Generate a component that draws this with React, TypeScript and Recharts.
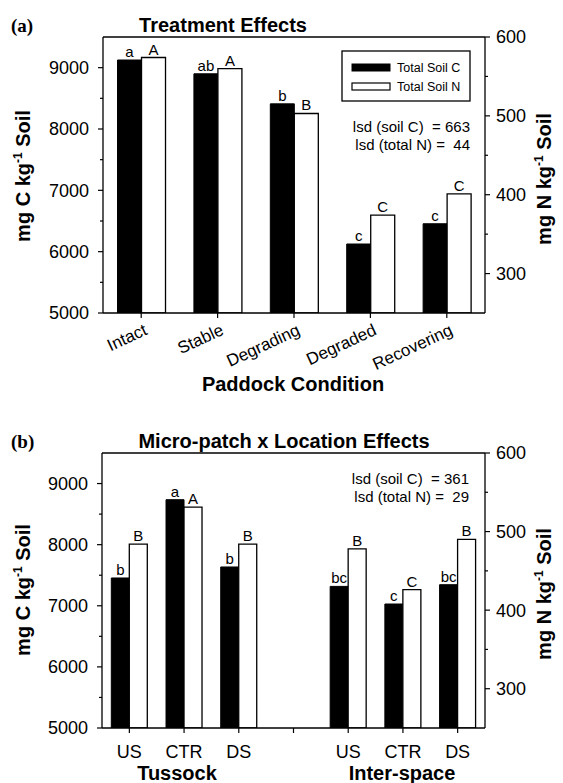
import { BarChart, Bar, XAxis, YAxis, LabelList, ReferenceLine } from 'recharts'

const conditions = ['Intact', 'Stable', 'Degrading', 'Degraded', 'Recovering']
const conditionSoilC = [9125, 8900, 8410, 6125, 6455]
const conditionSoilN = [574, 560, 503, 374, 401]
const conditionLettersC = ['a', 'ab', 'b', 'c', 'c']
const conditionLettersN = ['A', 'A', 'B', 'C', 'C']

const patches = ['US', 'CTR', 'DS', '', 'US', 'CTR', 'DS']
const patchSoilC = [7455, 8736, 7635, null, 7317, 7029, 7345]
const patchSoilN = [484, 531, 484, null, 478, 426, 490]
const patchLettersC = ['b', 'a', 'b', '', 'bc', 'c', 'bc']
const patchLettersN = ['B', 'A', 'B', '', 'B', 'C', 'B']

const carbonTicks = [5000, 5500, 6000, 6500, 7000, 7500, 8000, 8500, 9000]
const nitrogenTicks = [300, 350, 400, 450, 500, 550, 600]

const SANS = '"Liberation Sans", Arial, Helvetica, sans-serif'
const SERIF = '"Liberation Serif", "Times New Roman", serif'

const conditionData = conditions.map((name, i) => ({
  name,
  c: conditionSoilC[i],
  n: conditionSoilN[i],
  lc: conditionLettersC[i],
  ln: conditionLettersN[i],
}))

const patchData = patches.map((name, i) => ({
  name,
  c: patchSoilC[i],
  n: patchSoilN[i],
  lc: patchLettersC[i],
  ln: patchLettersN[i],
}))

const LeftTick = (props: any) => {
  const { x, y, payload } = props
  const major = payload.value % 1000 === 0
  return (
    <g>
      <line x1={x} x2={x - (major ? 5 : 3)} y1={y} y2={y} stroke="#000" strokeWidth={1.2} />
      {major && (
        <text x={x - 14} y={y} dy="0.36em" textAnchor="end" fontSize={18} fontFamily={SANS} fill="#000">
          {payload.value}
        </text>
      )}
    </g>
  )
}

const RightTick = (props: any) => {
  const { x, y, payload } = props
  const major = payload.value % 100 === 0
  return (
    <g>
      <line x1={x} x2={x + (major ? 5 : 3)} y1={y} y2={y} stroke="#000" strokeWidth={1.2} />
      {major && (
        <text x={x + 11} y={y} dy="0.36em" textAnchor="start" fontSize={18} fontFamily={SANS} fill="#000">
          {payload.value}
        </text>
      )}
    </g>
  )
}

const AngledTick = (props: any) => {
  const { x, y, payload } = props
  return (
    <g>
      <line x1={x} x2={x} y1={y} y2={y + 5} stroke="#000" strokeWidth={1.2} />
      <g transform={`translate(${x + 2},${y + 10}) rotate(-25)`}>
        <text textAnchor="end" dy="0.71em" fontSize={17} fontFamily={SANS} fill="#000">
          {payload.value}
        </text>
      </g>
    </g>
  )
}

const FlatTick = (props: any) => {
  const { x, y, payload } = props
  return (
    <g>
      <line x1={x} x2={x} y1={y} y2={y + 5} stroke="#000" strokeWidth={1.2} />
      <text x={x} y={y + 17} dy="0.71em" textAnchor="middle" fontSize={18} fontFamily={SANS} fill="#000">
        {payload.value}
      </text>
    </g>
  )
}

const AxisTitle = ({ x, y, element }: { x: number; y: number; element: string }) => (
  <text
    transform={`translate(${x},${y}) rotate(-90)`}
    textAnchor="middle"
    fontSize={20}
    fontWeight="bold"
    fontFamily={SANS}
    fill="#000"
  >
    {`mg ${element} kg`}
    <tspan dy={-8} fontSize={12}>-1</tspan>
    <tspan dy={8}>{'\u00a0Soil'}</tspan>
  </text>
)

const legendText = { fontSize: 12.5, fontFamily: SANS, fill: '#000' }
const lsdText = { fontSize: 15, fontFamily: SANS, fill: '#000' }
const heading = { fontSize: 20, fontWeight: 'bold' as const, fontFamily: SANS, fill: '#000' }

export default function App() {
  return (
    <div style={{ position: 'absolute', left: 0, top: 0, width: 563, height: 783, background: '#fff' }}>
      <div style={{ position: 'absolute', left: 0, top: 0 }}>
        <BarChart
          width={563}
          height={400}
          data={conditionData}
          margin={{ top: 37, right: 28, left: 33, bottom: 27 }}
          barCategoryGap="19%"
          barGap={0}
        >
          <XAxis dataKey="name" height={60} tickSize={0} tickMargin={0} tick={<AngledTick />} interval={0} stroke="#000" strokeWidth={1.3} />
          <YAxis
            yAxisId="left"
            width={70}
            domain={[5000, 9500]}
            ticks={carbonTicks}
            interval={0}
            allowDataOverflow
            tickSize={0}
            tickMargin={0}
            tick={<LeftTick />}
            stroke="#000"
            strokeWidth={1.3}
          />
          <YAxis
            yAxisId="right"
            orientation="right"
            width={50}
            domain={[250, 600]}
            ticks={nitrogenTicks}
            interval={0}
            allowDataOverflow
            tickSize={0}
            tickMargin={0}
            tick={<RightTick />}
            stroke="#000"
            strokeWidth={1.3}
          />
          <ReferenceLine yAxisId="left" y={9500} stroke="#000" strokeWidth={1.3} />
          <Bar yAxisId="left" dataKey="c" name="Total Soil C" fill="#000" stroke="#000" isAnimationActive={false}>
            <LabelList dataKey="lc" position="top" offset={3} fontSize={15} fontFamily={SANS} fill="#000" />
          </Bar>
          <Bar yAxisId="right" dataKey="n" name="Total Soil N" fill="#fff" stroke="#000" strokeWidth={1.3} isAnimationActive={false}>
            <LabelList dataKey="ln" position="top" offset={3} fontSize={15} fontFamily={SANS} fill="#000" />
          </Bar>
        </BarChart>
      </div>

      <div style={{ position: 'absolute', left: 0, top: 416 }}>
        <BarChart
          width={563}
          height={367}
          data={patchData}
          margin={{ top: 37, right: 28, left: 32, bottom: 15 }}
          barCategoryGap="17%"
          barGap={0}
        >
          <XAxis dataKey="name" height={40} tickSize={0} tickMargin={0} tick={<FlatTick />} interval={0} stroke="#000" strokeWidth={1.3} />
          <YAxis
            yAxisId="left"
            width={70}
            domain={[5000, 9500]}
            ticks={carbonTicks}
            interval={0}
            allowDataOverflow
            tickSize={0}
            tickMargin={0}
            tick={<LeftTick />}
            stroke="#000"
            strokeWidth={1.3}
          />
          <YAxis
            yAxisId="right"
            orientation="right"
            width={50}
            domain={[250, 600]}
            ticks={nitrogenTicks}
            interval={0}
            allowDataOverflow
            tickSize={0}
            tickMargin={0}
            tick={<RightTick />}
            stroke="#000"
            strokeWidth={1.3}
          />
          <ReferenceLine yAxisId="left" y={9500} stroke="#000" strokeWidth={1.3} />
          <Bar yAxisId="left" dataKey="c" fill="#000" stroke="#000" isAnimationActive={false}>
            <LabelList dataKey="lc" position="top" offset={3} fontSize={15} fontFamily={SANS} fill="#000" />
          </Bar>
          <Bar yAxisId="right" dataKey="n" fill="#fff" stroke="#000" strokeWidth={1.3} isAnimationActive={false}>
            <LabelList dataKey="ln" position="top" offset={3} fontSize={15} fontFamily={SANS} fill="#000" />
          </Bar>
        </BarChart>
      </div>

      <svg width={563} height={783} style={{ position: 'absolute', left: 0, top: 0, pointerEvents: 'none' }}>
        {/* panel (a) */}
        <text x={11} y={32} fontSize={19} fontWeight="bold" fontFamily={SERIF} fill="#000">(a)</text>
        <text x={223} y={32} textAnchor="middle" {...heading}>Treatment Effects</text>
        <AxisTitle x={30} y={176} element="C" />
        <AxisTitle x={551} y={179} element="N" />

        <rect x={342} y={51} width={128} height={50} fill="#fff" stroke="#000" strokeWidth={1.3} />
        <rect x={352} y={64} width={38} height={7} fill="#000" stroke="#000" />
        <text x={397} y={72} {...legendText}>Total Soil C</text>
        <rect x={352} y={83} width={38} height={7} fill="#fff" stroke="#000" strokeWidth={1.2} />
        <text x={397} y={91} {...legendText}>Total Soil N</text>

        <text x={470} y={132} textAnchor="end" {...lsdText}>{'lsd (soil C)\u00a0\u00a0= 663'}</text>
        <text x={470} y={150} textAnchor="end" {...lsdText}>{'lsd (total N) =\u00a0\u00a044'}</text>
        <text x={293} y={391} textAnchor="middle" {...heading}>Paddock Condition</text>

        {/* panel (b) */}
        <text x={11} y={448} fontSize={19} fontWeight="bold" fontFamily={SERIF} fill="#000">(b)</text>
        <text x={284} y={448} textAnchor="middle" {...heading}>Micro-patch x Location Effects</text>
        <AxisTitle x={30} y={590} element="C" />
        <AxisTitle x={551} y={594} element="N" />
        <text x={469} y={484} textAnchor="end" {...lsdText}>{'lsd (soil C)\u00a0\u00a0= 361'}</text>
        <text x={469} y={502} textAnchor="end" {...lsdText}>{'lsd (total N) =\u00a0\u00a029'}</text>
        <text x={177} y={780} textAnchor="middle" {...heading}>Tussock</text>
        <text x={402} y={780} textAnchor="middle" {...heading}>Inter-space</text>
      </svg>
    </div>
  )
}
